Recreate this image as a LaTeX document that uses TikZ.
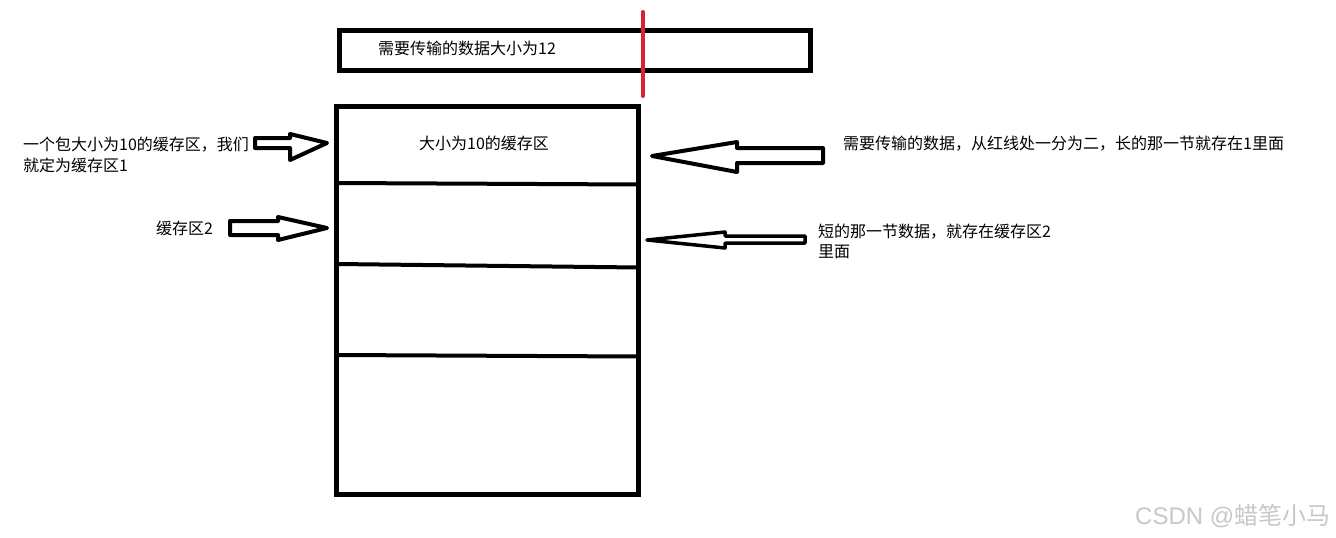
\documentclass[tikz,border=0pt]{standalone}
\usepackage{fontspec}
\setmainfont{Noto Sans CJK SC}
\newfontfamily\wmlatin{Liberation Sans}
\definecolor{redline}{RGB}{218,35,45}
\definecolor{wmgray}{RGB}{200,200,200}
\tikzset{
  boxline/.style={draw=black,line width=5pt},
  divline/.style={draw=black,line width=4pt},
  blockarrow/.style={draw=black,fill=white,line width=4pt,line join=round},
  thinarrow/.style={draw=black,fill=white,line width=3.5pt,line join=round},
  lbl/.style={anchor=west,inner sep=0pt,font=\fontsize{16}{20}\selectfont},
}
\begin{document}
\begin{tikzpicture}[x=1pt,y=-1pt]
\useasboundingbox (0,0) rectangle (1336,538);
\fill[white] (0,0) rectangle (1336,538);
% top data box
\draw[boxline] (339.5,30.5) rectangle (810.5,70.5);
\node[lbl] (t0) at (378,48) {需要传输的数据大小为12};
% red split line
\draw[redline,line width=4pt,line cap=round] (642.5,12) -- (642.5,96);
% main buffer box
\draw[boxline] (336.5,106.5) rectangle (638.5,494.5);
\draw[divline] (336.5,183) -- (638.5,184.5);
\draw[divline] (336.5,264) -- (638.5,267.5);
\draw[divline] (336.5,355) -- (638.5,356.5);
\node[lbl,anchor=center] (t1) at (484,143) {大小为10的缓存区};
% left labels
\node[lbl] (l1) at (23,145) {一个包大小为10的缓存区，我们};
\node[lbl] (l2) at (23,165) {就定为缓存区1};
\node[lbl] (l3) at (156,228) {缓存区2};
% right labels
\node[lbl] (r1) at (843,144) {需要传输的数据，从红线处一分为二，长的那一节就存在1里面};
\node[lbl] (r2) at (818,232) {短的那一节数据，就存在缓存区2};
\node[lbl] (r3) at (818,252) {里面};
% block arrows
\draw[blockarrow] (255,138) -- (290,138) -- (290,134) -- (327,143) -- (290,160) -- (290,148) -- (255,148) -- cycle;
\draw[blockarrow] (230,221) -- (278,221) -- (278,217) -- (327,228) -- (278,240) -- (278,235) -- (230,235) -- cycle;
\draw[blockarrow] (823,148) -- (737,148) -- (737,142) -- (652,156) -- (737,172) -- (737,163) -- (823,163) -- cycle;
\draw[thinarrow] (805,236) -- (725,236) -- (725,232) -- (647,240) -- (725,248) -- (725,243) -- (805,243) -- cycle;
% watermark
\node[anchor=west,inner sep=0pt,text=wmgray,font=\fontsize{24}{28}\selectfont] (wm) at (1135,516) {{\wmlatin CSDN @}蜡笔小马};
\end{tikzpicture}
\end{document}
